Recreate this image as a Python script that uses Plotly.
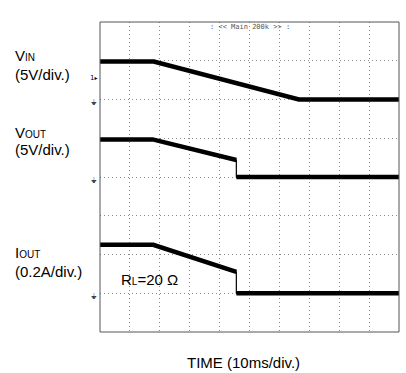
import plotly.graph_objects as go

# scope capture, time in ms (10 ms/div, 10 divs)
vin_t = [0, 18.0, 66.5, 100]
vin_v = [4.9, 4.9, 0.0, 0.0]

vout_t = [0, 17.6, 45.6, 45.6, 100]
vout_v = [4.85, 4.85, 2.2, 0.0, 0.0]

iout_t = [0, 17.8, 45.6, 45.6, 100]
iout_a = [0.25, 0.25, 0.11, 0.0, 0.0]

# (ground position in divs, units per div)
channels = [
    ("VIN", vin_t, vin_v, 6, 5.0),
    ("VOUT", vout_t, vout_v, 4, 5.0),
    ("IOUT", iout_t, iout_a, 1, 0.2),
]

FONT = "Liberation Sans, Arial, sans-serif"

fig = go.Figure()

for name, t, v, gnd, per_div in channels:
    y = [gnd + val / per_div for val in v]
    # thin trace for the whole waveform (vertical steps stay thin)
    fig.add_trace(go.Scatter(x=t, y=y, mode="lines", line=dict(color="black", width=1.2),
                             showlegend=False, hoverinfo="skip"))
    # thick trace, broken at the vertical steps
    tx, ty = [t[0]], [y[0]]
    for i in range(1, len(t)):
        if t[i] == t[i - 1]:
            tx.append(None)
            ty.append(None)
        tx.append(t[i])
        ty.append(y[i])
    fig.add_trace(go.Scatter(x=tx, y=ty, mode="lines", name=name,
                             line=dict(color="black", width=4.5), showlegend=False))

grid = dict(showgrid=True, gridcolor="#8a8a8a", griddash="1px,3px", gridwidth=1,
            showticklabels=False, ticks="", zeroline=False, showline=False)

fig.update_xaxes(range=[0, 100], dtick=10, **grid)
fig.update_yaxes(range=[0, 8], dtick=1, **grid)

# scope frame
fig.add_shape(type="rect", xref="paper", yref="paper", x0=0, x1=1, y0=0, y1=1,
              line=dict(color="#555", width=1), layer="above")

ann = []
left_labels = [
    ("V<span style='font-size:10px'>IN</span>", 55),
    ("(5V/div.)", 74),
    ("V<span style='font-size:10px'>OUT</span>", 132),
    ("(5V/div.)", 149),
    ("I<span style='font-size:10px'>OUT</span>", 252),
    ("(0.2A/div.)", 271),
]
for txt, ypix in left_labels:
    ann.append(dict(text=txt, xref="paper", yref="paper", x=-100 / 299 + 13 / 299,
                    y=1 - (ypix - 22) / 310, xanchor="left", yanchor="middle",
                    showarrow=False, font=dict(size=15, color="black", family=FONT)))

ann.append(dict(text="R<span style='font-size:10px'>L</span>=20 Ω", xref="x", yref="y",
                x=6.3, y=(332 - 279) / 38.75, xanchor="left", yanchor="middle", showarrow=False,
                font=dict(size=15, color="black", family=FONT)))

ann.append(dict(text="TIME (10ms/div.)", xref="paper", yref="paper", x=(243 - 100) / 299,
                y=-(362 - 332) / 310, xanchor="center", yanchor="middle", showarrow=False,
                font=dict(size=15, color="black", family=FONT)))

ann.append(dict(text=": << Main 200k >> :", xref="x", yref="paper", x=50, y=1 - 5.5 / 310,
                xanchor="center", yanchor="middle", showarrow=False,
                font=dict(size=7, color="#555", family="DejaVu Sans Mono, monospace")))

# channel markers left of the frame
ann.append(dict(text="1<span style='font-size:6px'>▸</span>", xref="paper", yref="y", x=-1 / 299, y=(332 - 78) / 38.75,
                xanchor="right", yanchor="middle", showarrow=False,
                font=dict(size=7, color="black", family="DejaVu Sans")))
for gnd in [6, 4, 1]:
    ann.append(dict(text="⏚", xref="paper", yref="y", x=-1 / 299, y=gnd - 0.08,
                    xanchor="right", yanchor="middle", showarrow=False,
                    font=dict(size=8, color="#444", family="DejaVu Sans")))

fig.update_layout(
    width=406, height=373,
    margin=dict(l=100, r=7, t=22, b=41),
    paper_bgcolor="white", plot_bgcolor="white",
    annotations=ann,
)

fig.write_html("out.html", config={"displayModeBar": False},
               post_script="document.body.style.margin='0';")
